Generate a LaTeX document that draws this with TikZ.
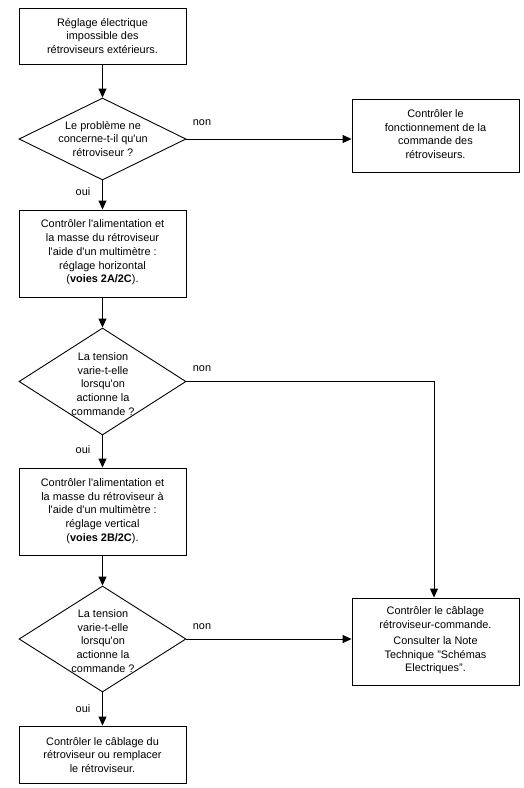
\documentclass[tikz,border=0pt]{standalone}
\usepackage{fontspec}
\setmainfont{Liberation Sans}
\usetikzlibrary{shapes.geometric,arrows.meta,calc}
\newcommand\ap{\textquotesingle}
\begin{document}
\begin{tikzpicture}[x=1pt,y=-1pt,
  every node/.style={font=\fontsize{10.9}{13.8}\selectfont, align=center},
  stepbox/.style={draw, line width=0.9pt, inner sep=0pt},
  decision/.style={draw, diamond, line width=0.9pt, inner sep=0pt, minimum width=167pt},
  txt/.style={inner sep=0pt},
  conn/.style={line width=0.9pt},
  arr/.style={conn, -{Triangle[width=8pt,length=9pt]}},
  lbl/.style={inner sep=0pt}
]
\useasboundingbox (0,0) rectangle (523,788);
% left column boxes
\node[stepbox, minimum width=167pt, minimum height=56pt] (b1) at (102.5,36) {};
\node[txt] at (102.5,36) {Réglage électrique\\impossible des\\rétroviseurs extérieurs.};
\node[decision, minimum height=82pt] (d1) at (102.5,139) {};
\node[txt] at (103,139) {Le problème ne\\concerne-t-il qu\ap un\\rétroviseur ?};
\node[stepbox, minimum width=167pt, minimum height=87pt] (b2) at (102.5,253.5) {};
\node[txt] at (102.5,252.5) {Contrôler l\ap alimentation et\\la masse du rétroviseur\\l\ap aide d\ap un multimètre :\\réglage horizontal\\(\textbf{voies 2A/2C}).};
\node[decision, minimum height=107pt] (d2) at (102.5,381.5) {};
\node[txt] at (103,384) {La tension\\varie-t-elle\\lorsqu\ap on\\actionne la\\commande ?};
\node[stepbox, minimum width=167pt, minimum height=87pt] (b3) at (102.5,511.5) {};
\node[txt] at (102.5,511) {Contrôler l\ap alimentation et\\la masse du rétroviseur à\\l\ap aide d\ap un multimètre :\\réglage vertical\\(\textbf{voies 2B/2C}).};
\node[decision, minimum height=106pt] (d3) at (102.5,639) {};
\node[txt] at (103,641) {La tension\\varie-t-elle\\lorsqu\ap on\\actionne la\\commande ?};
\node[stepbox, minimum width=167pt, minimum height=57pt] (b4) at (102.5,754.5) {};
\node[txt] at (102.5,755) {Contrôler le câblage du\\rétroviseur ou remplacer\\le rétroviseur.};
% right column boxes
\node[stepbox, minimum width=167pt, minimum height=73pt] (r1) at (435.5,135.5) {};
\node[txt] at (435.5,134) {Contrôler le\\fonctionnement de la\\commande des\\rétroviseurs.};
\node[stepbox, minimum width=167pt, minimum height=87pt] (r2) at (435.5,641.5) {};
\node[txt] at (435.5,640.5) {Contrôler le câblage\\rétroviseur-commande.\\[2pt]Consulter la Note\\Technique "Schémas\\Electriques".};
% connectors
\draw[arr] (b1.south) -- (d1.north);
\draw[arr] (d1.south) -- (b2.north);
\draw[arr] (b2.south) -- (d2.north);
\draw[arr] (d2.south) -- (b3.north);
\draw[arr] (b3.south) -- (d3.north);
\draw[arr] (d3.south) -- (b4.north);
\draw[arr] (d1.east) -- (d1.east -| r1.west);
\draw[arr] (d2.east) -| ([xshift=-1.5pt]r2.north);
\draw[arr] (d3.east) -- (d3.east -| r2.west);
% labels
\node[lbl] at (202,123) {non};
\node[lbl] at (202,369) {non};
\node[lbl] at (202,627) {non};
\node[lbl] at (83,192) {oui};
\node[lbl] at (83,450) {oui};
\node[lbl] at (83,709) {oui};
\end{tikzpicture}
\end{document}
